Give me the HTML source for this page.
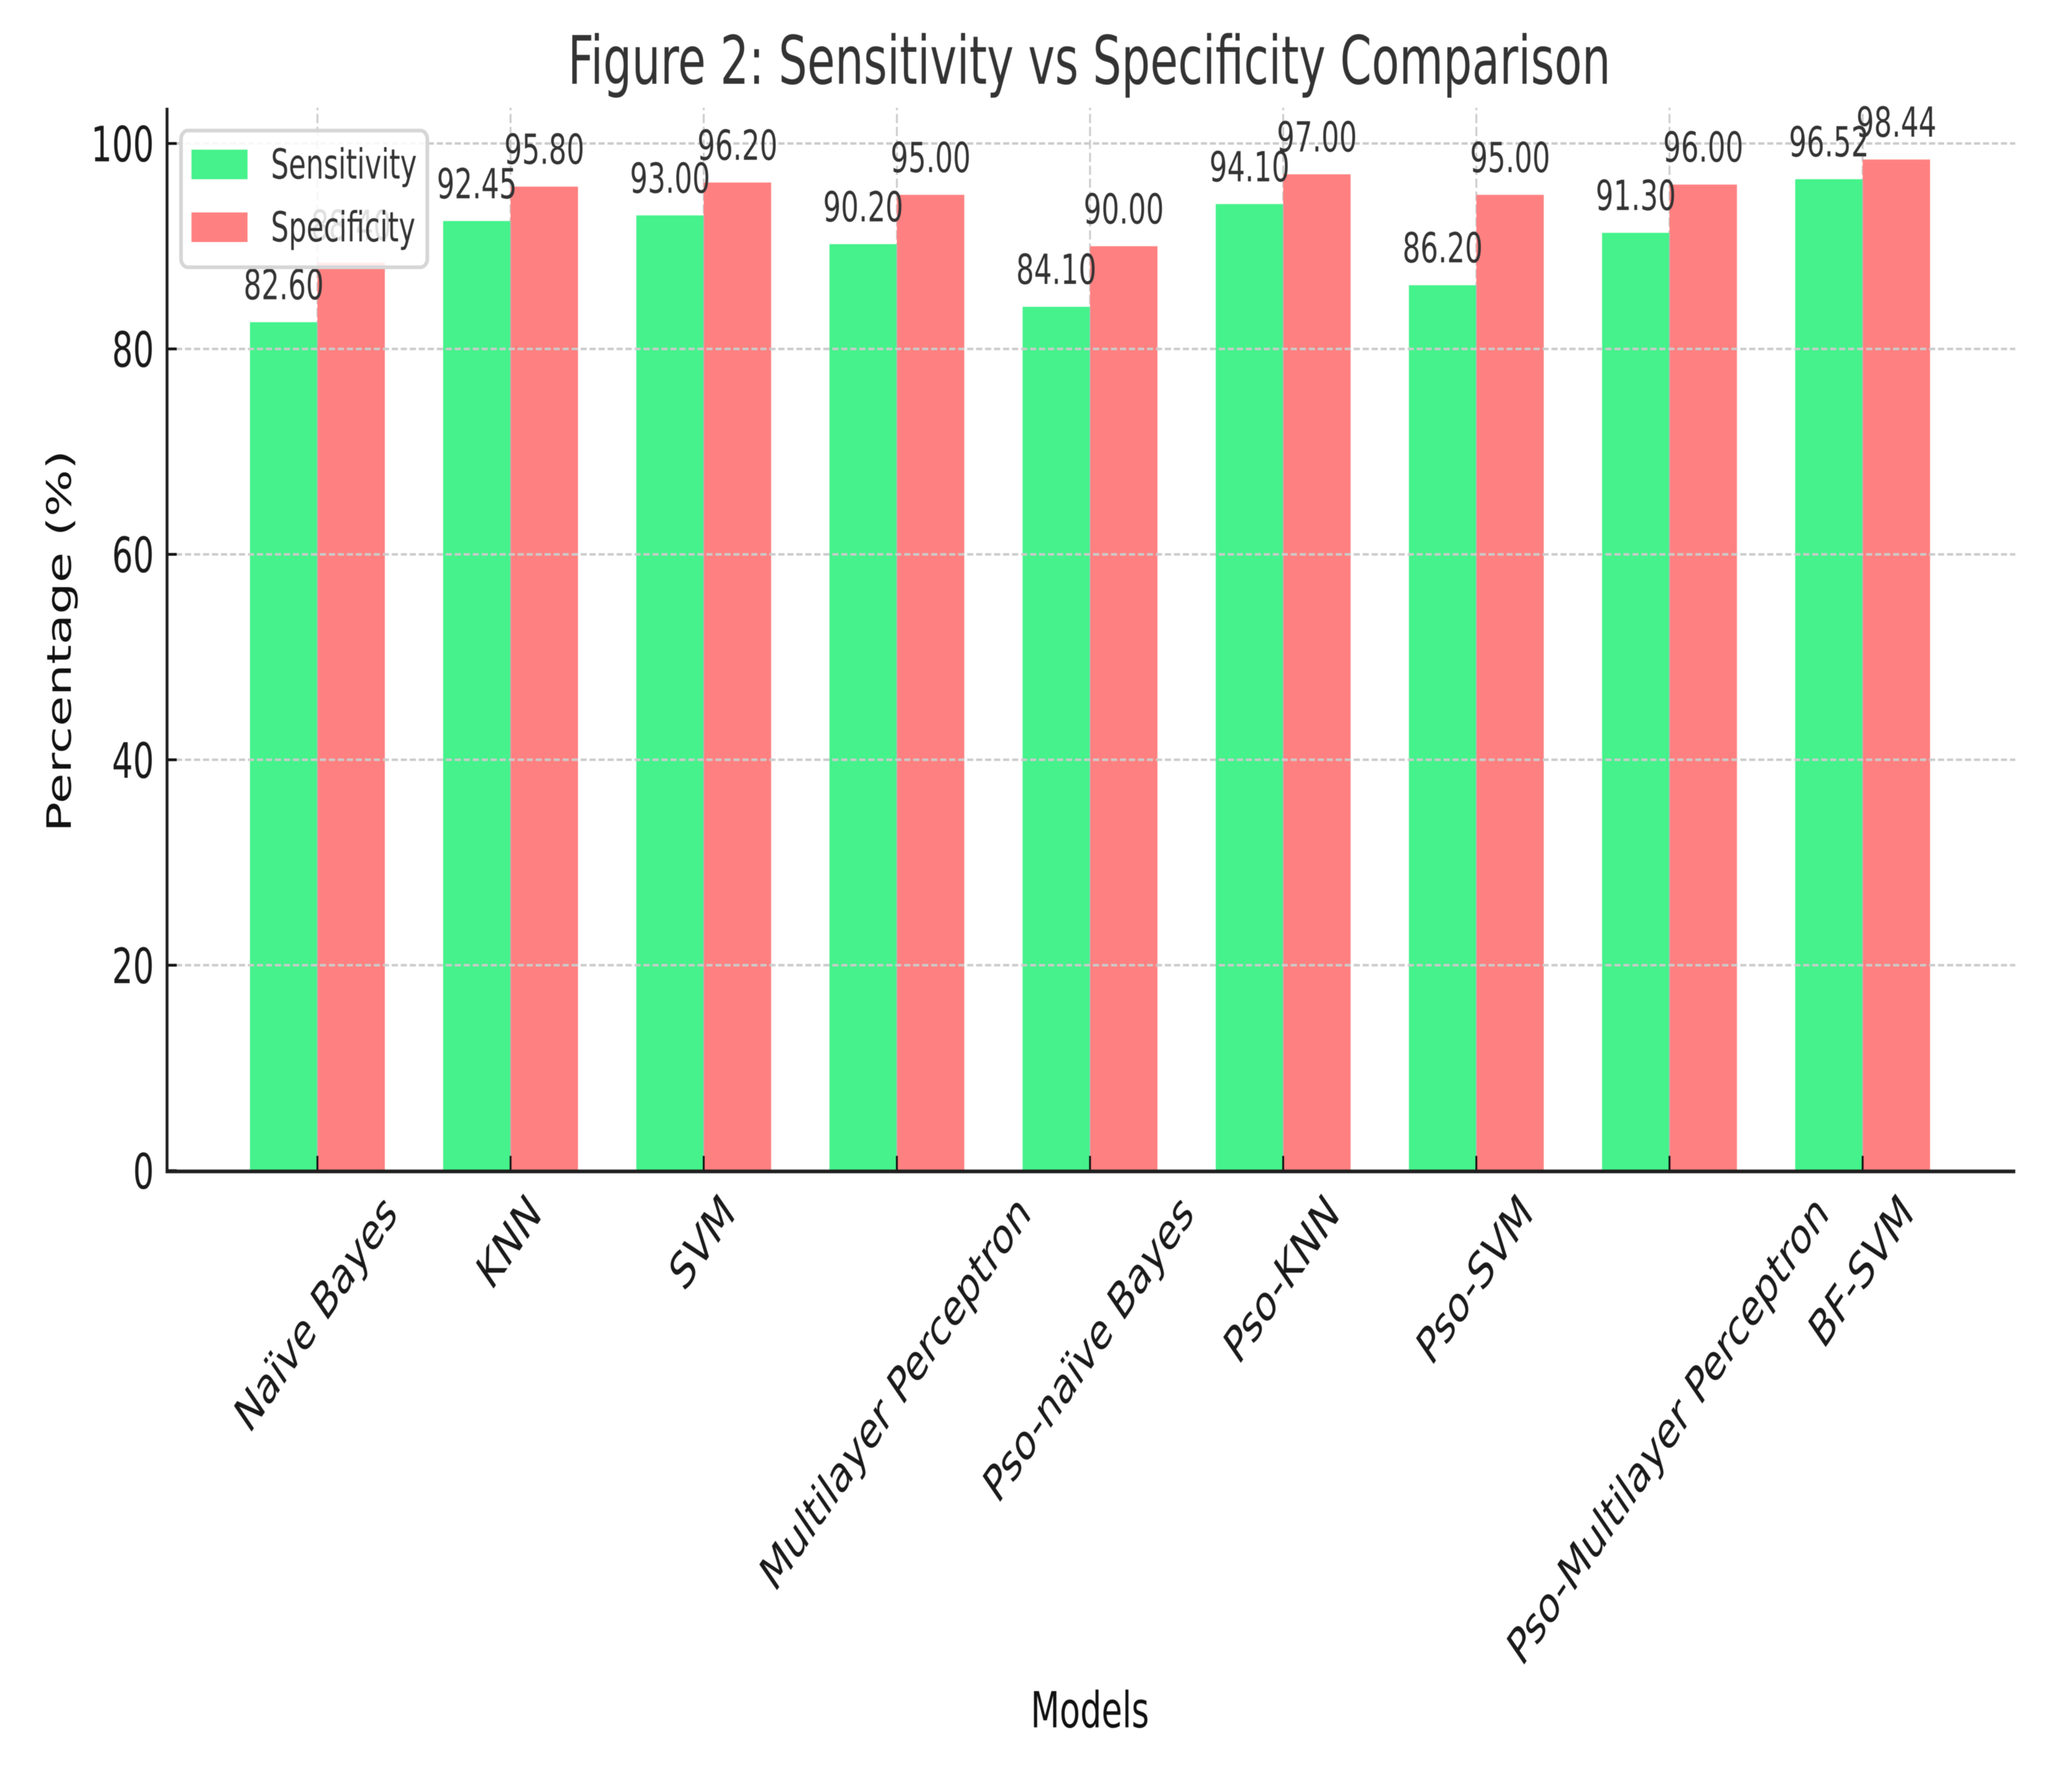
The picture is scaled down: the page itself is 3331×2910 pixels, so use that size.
<!DOCTYPE html>
<html lang="en">
<head>
<meta charset="utf-8">
<title>Figure 2: Sensitivity vs Specificity Comparison</title>
<style>
html,body{margin:0;padding:0;background:#fff;width:3331px;height:2910px;overflow:hidden}
svg{display:block;filter:blur(0.6px)}
text{font-family:"DejaVu Sans","Liberation Sans",sans-serif;text-rendering:geometricPrecision}
</style>
</head>
<body>
<svg id="chart" xmlns="http://www.w3.org/2000/svg" width="3331" height="2910" viewBox="0 0 3331 2910">
  <rect x="0" y="0" width="3331" height="2910" fill="#ffffff"/>
  <g id="gridV"></g>
  <g id="bars"></g>
  <g id="grid"></g>
  <g id="values"></g>
  <g id="axes"></g>
  <g>
    <rect x="294" y="212" width="400" height="222" rx="11" ry="14" fill="#ffffff" fill-opacity="0.85" stroke="#d6d6d6" stroke-width="6"/>
    <rect x="311" y="243" width="91" height="48" fill="#45F28B"/>
    <rect x="311" y="345" width="91" height="48" fill="#FF8080"/>
    <text transform="translate(440 290) scale(1 1.48)" font-size="45.5" fill="#333333">Sensitivity</text>
    <text transform="translate(440 392) scale(1 1.48)" font-size="45.5" fill="#333333">Specificity</text>
  </g>
  <text transform="translate(1769 136) scale(1 1.48)" text-anchor="middle" font-size="73.4" fill="#333333">Figure 2: Sensitivity vs Specificity Comparison</text>
  <text transform="translate(1770 2805) scale(1 1.48)" text-anchor="middle" font-size="54.6" fill="#111111">Models</text>
  <text transform="translate(115 1041) scale(1 1.48) rotate(-90)" text-anchor="middle" font-size="54.6" fill="#111111">Percentage (%)</text>
</svg>
<script>
var categories = ["Naïve Bayes","KNN","SVM","Multilayer Perceptron","Pso-naïve Bayes","Pso-KNN","Pso-SVM","Pso-Multilayer Perceptron","BF-SVM"];
var sensitivity = [82.60,92.45,93.00,90.20,84.10,94.10,86.20,91.30,96.52];
var specificity = [88.40,95.80,96.20,95.00,90.00,97.00,95.00,96.00,98.44];
var yTicks = [0,20,40,60,80,100];

var NS = "http://www.w3.org/2000/svg";
var STRETCH = 1.48;
var LABEL_STRETCH = 1.465;
var LABEL_SIZE = 55.5;
var Y_ZERO = 1901, Y_UNIT = 16.68;
var X_START = 515.5, X_STEP = 313.7, BAR_W = 109.5;
var AXIS_LEFT = 271.3, AXIS_RIGHT = 3273, AXIS_TOP = 175;

function yScale(v){ return Y_ZERO - v * Y_UNIT; }
function xScale(i){ return X_START + i * X_STEP; }
function slug(s){ return s.toLowerCase().replace(/[^a-z0-9]+/g,'-').replace(/^-|-$/g,''); }
function make(tag, parent){
  var el = document.createElementNS(NS, tag);
  parent.appendChild(el);
  return el;
}
function setAll(el, attrs){
  for (var k in attrs) el.setAttribute(k, attrs[k]);
}

var barsG = document.getElementById('bars');
var gridG = document.getElementById('grid');
var gridVG = document.getElementById('gridV');
var valuesG = document.getElementById('values');
var axesG = document.getElementById('axes');

// bars and value labels
categories.forEach(function(cat, i){
  var cx = xScale(i);

  var b1 = make('rect', barsG);
  
  
  setAll(b1, {x: cx - BAR_W, y: yScale(sensitivity[i]), width: BAR_W, height: Y_ZERO - yScale(sensitivity[i]), fill: '#45F28B'});

  var b2 = make('rect', barsG);
  
  
  setAll(b2, {x: cx, y: yScale(specificity[i]), width: BAR_W, height: Y_ZERO - yScale(specificity[i]), fill: '#FF8080'});

  var seam = make('line', barsG);
  
  
  setAll(seam, {x1: cx, x2: cx, y1: yScale(Math.min(sensitivity[i], specificity[i])), y2: Y_ZERO, stroke: '#b8b8b8', 'stroke-width': 1.4});

  var t1 = make('text', valuesG);
  
  
  setAll(t1, {transform: 'translate(' + (cx - BAR_W / 2) + ' ' + (yScale(sensitivity[i]) - 37) + ') scale(1 ' + STRETCH + ')', 'text-anchor': 'middle', 'font-size': 45.5, fill: '#333333'});
  t1.textContent = sensitivity[i].toFixed(2);

  var t2 = make('text', valuesG);
  
  
  setAll(t2, {transform: 'translate(' + (cx + BAR_W / 2) + ' ' + (yScale(specificity[i]) - 37) + ') scale(1 ' + STRETCH + ')', 'text-anchor': 'middle', 'font-size': 45.5, fill: '#333333'});
  t2.textContent = specificity[i].toFixed(2);
});

// horizontal grid, y ticks and labels
yTicks.forEach(function(v){
  var y = yScale(v);
  if (v !== 0) {
    var g = make('line', gridG);
    
    
    setAll(g, {x1: AXIS_LEFT, x2: AXIS_RIGHT, y1: y, y2: y, stroke: '#cbcbcb', 'stroke-width': 4, 'stroke-dasharray': '10 4.6'});
  }
  var tk = make('line', axesG);
  
  
  setAll(tk, {x1: AXIS_LEFT, x2: 287, y1: y, y2: y, stroke: '#111111', 'stroke-width': 4.5});

  var lb = make('text', axesG);
  
  
  setAll(lb, {transform: 'translate(250 ' + (y + 29) + ') scale(1 ' + STRETCH + ')', 'text-anchor': 'end', 'font-size': 53.5, fill: '#1a1a1a'});
  lb.textContent = String(v);
});

// vertical grid, x ticks and rotated labels
categories.forEach(function(cat, i){
  var x = xScale(i);
  var g = make('line', gridVG);
  
  
  setAll(g, {x1: x, x2: x, y1: Y_ZERO, y2: AXIS_TOP, stroke: '#cbcbcb', 'stroke-width': 3, 'stroke-dasharray': '15 6'});

  var tk = make('line', axesG);
  
  
  setAll(tk, {x1: x, x2: x, y1: Y_ZERO, y2: Y_ZERO - 24, stroke: '#111111', 'stroke-width': 3});

  var lb = make('text', axesG);
  
  
  setAll(lb, {'text-anchor': 'middle', 'font-size': LABEL_SIZE, fill: '#1a1a1a'});
  lb.textContent = cat;
  var L = lb.getComputedTextLength();
  var half = (L + LABEL_SIZE * 0.95) * Math.SQRT1_2 / 2 * LABEL_STRETCH;
  var cy = 1927 + half;
  lb.setAttribute('transform', 'translate(' + (x - 3) + ' ' + cy + ') scale(1 ' + LABEL_STRETCH + ') rotate(-45) translate(0 ' + (LABEL_SIZE * 0.35) + ')');
});

// spines
var sl = make('line', axesG);


setAll(sl, {x1: AXIS_LEFT, x2: AXIS_LEFT, y1: AXIS_TOP, y2: Y_ZERO + 4, stroke: '#1f1f1f', 'stroke-width': 4.7});

var sb = make('line', axesG);


setAll(sb, {x1: AXIS_LEFT - 2.3, x2: AXIS_RIGHT, y1: Y_ZERO + 1.2, y2: Y_ZERO + 1.2, stroke: '#1f1f1f', 'stroke-width': 6});
</script>
</body>
</html>
